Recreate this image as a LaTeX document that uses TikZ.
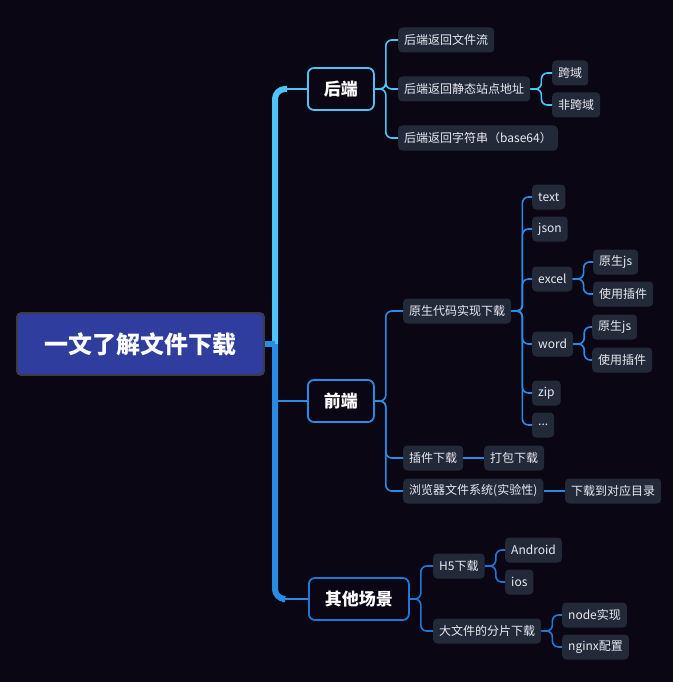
\documentclass[tikz,border=0pt]{standalone}
\usepackage{fontspec}
\newfontfamily\cjk{Noto Sans CJK SC}
\usetikzlibrary{calc}
\definecolor{Fond}{HTML}{0A0614}
\definecolor{RootFill}{HTML}{2F3E9E}
\definecolor{RootLine}{HTML}{3C3C46}
\definecolor{LeafFill}{HTML}{222A3A}
\definecolor{LeafText}{HTML}{E8EAF0}
\definecolor{CoulA}{HTML}{4FC3F7}
\definecolor{CoulB}{HTML}{2A8BE4}
\definecolor{CoulC}{HTML}{1F78D8}
\tikzset{%
    Map root/.style={%
        draw=RootLine,
        line width=1.8pt,
        fill=RootFill,
        rounded corners=4pt,
        minimum width=247pt,
        minimum height=62pt,
        text=white,
        font=\cjk\bfseries\fontsize{24}{24}\selectfont
    },
    Map branch/.style={%
        draw=#1,
        fill=Fond,
        line width=1.8pt,
        rounded corners=6pt,
        anchor=west,
        minimum height=42pt,
        inner xsep=16pt,
        text=white,
        font=\cjk\bfseries\fontsize{17}{17}\selectfont
    },
    Map leaf/.style={%
        fill=LeafFill,
        rounded corners=4pt,
        anchor=west,
        minimum height=25pt,
        inner xsep=6pt,
        inner ysep=0pt,
        text=LeafText,
        font=\cjk\fontsize{12}{12}\selectfont
    },
    Map link/.style={%
        draw=#1,
        line width=1.6pt,
        rounded corners=6pt
    },
    Map trunk/.style={%
        draw=#1,
        line width=6pt,
        rounded corners=10pt
    }
}
\NewDocumentCommand{\Lien}{%
    O{CoulB} % couleur du lien
    m        % noeud parent
    m        % noeud enfant
    }{%
    \draw[Map link=#1] (#2.east) -- ++(11,0) |- (#3.west) ;
    }

\begin{document}
\begin{tikzpicture}[x=1pt,y=-1pt]
\fill[Fond] (0,0) rectangle (673,682);
\useasboundingbox (0,0) rectangle (673,682);

% racine et branches
\node[Map root] (root) at (140.5,344) {一文了解文件下载};
\node[Map branch=CoulA] (be) at (307,89)  {后端};
\node[Map branch=CoulB] (fe) at (307,401) {前端};
\node[Map branch=CoulC] (ot) at (308,599) {其他场景};

\coordinate (hub) at (275,344);
\draw[Map trunk=CoulA] (hub) |- ($(be.west)+(-20,0)$);
\draw[Map link=CoulA] ($(be.west)+(-22,0)$) -- (be.west);
\draw[Map trunk=CoulB] (hub) |- ($(ot.west)+(-26,0)$);
\draw[Map link=CoulB] ($(ot.west)+(-28,0)$) -- (ot.west);
\draw[Map trunk=CoulB] (root.east) -- (hub);
\draw[Map link=CoulB] (hub |- fe.west) -- (fe.west);

% back-end
\node[Map leaf] (b1)  at (398,40)  {后端返回文件流};
\node[Map leaf] (b2)  at (398,89)  {后端返回静态站点地址};
\node[Map leaf] (b3)  at (398,138) {后端返回字符串（base64）};
\node[Map leaf] (b21) at (552,73)  {跨域};
\node[Map leaf] (b22) at (552,105) {非跨域};

\Lien[CoulA]{be}{b1}
\Lien[CoulA]{be}{b2}
\Lien[CoulA]{be}{b3}
\Lien[CoulA]{b2}{b21}
\Lien[CoulA]{b2}{b22}

% front-end
\node[Map leaf] (f1)   at (403,311) {原生代码实现下载};
\node[Map leaf] (f2)   at (403,458) {插件下载};
\node[Map leaf] (f3)   at (403,491) {浏览器文件系统(实验性)};
\node[Map leaf] (f21)  at (484,458) {打包下载};
\node[Map leaf] (f31)  at (565,491) {下载到对应目录};
\node[Map leaf] (f11)  at (532,197) {text};
\node[Map leaf] (f12)  at (532,229) {json};
\node[Map leaf] (f13)  at (532,279) {excel};
\node[Map leaf] (f14)  at (532,344) {word};
\node[Map leaf] (f15)  at (532,393) {zip};
\node[Map leaf] (f16)  at (532,425) {...};
\node[Map leaf] (f131) at (593,262) {原生js};
\node[Map leaf] (f132) at (593,294) {使用插件};
\node[Map leaf] (f141) at (592,327) {原生js};
\node[Map leaf] (f142) at (592,360) {使用插件};

\Lien{fe}{f1}
\Lien{fe}{f2}
\Lien{fe}{f3}
\draw[Map link=CoulB] (f2) -- (f21);
\draw[Map link=CoulB] (f3) -- (f31);
\foreach \n in {f11,f12,f13,f14,f15,f16}
    {\Lien{f1}{\n}}
\Lien{f13}{f131}
\Lien{f13}{f132}
\Lien{f14}{f141}
\Lien{f14}{f142}

% autres
\node[Map leaf] (o1)  at (433,566) {H5下载};
\node[Map leaf] (o2)  at (433,631) {大文件的分片下载};
\node[Map leaf] (o11) at (505,550) {Android};
\node[Map leaf] (o12) at (505,582) {ios};
\node[Map leaf] (o21) at (562,615) {node实现};
\node[Map leaf] (o22) at (562,647) {nginx配置};

\Lien[CoulC]{ot}{o1}
\Lien[CoulC]{ot}{o2}
\Lien[CoulC]{o1}{o11}
\Lien[CoulC]{o1}{o12}
\Lien[CoulC]{o2}{o21}
\Lien[CoulC]{o2}{o22}

\end{tikzpicture}
\end{document}
